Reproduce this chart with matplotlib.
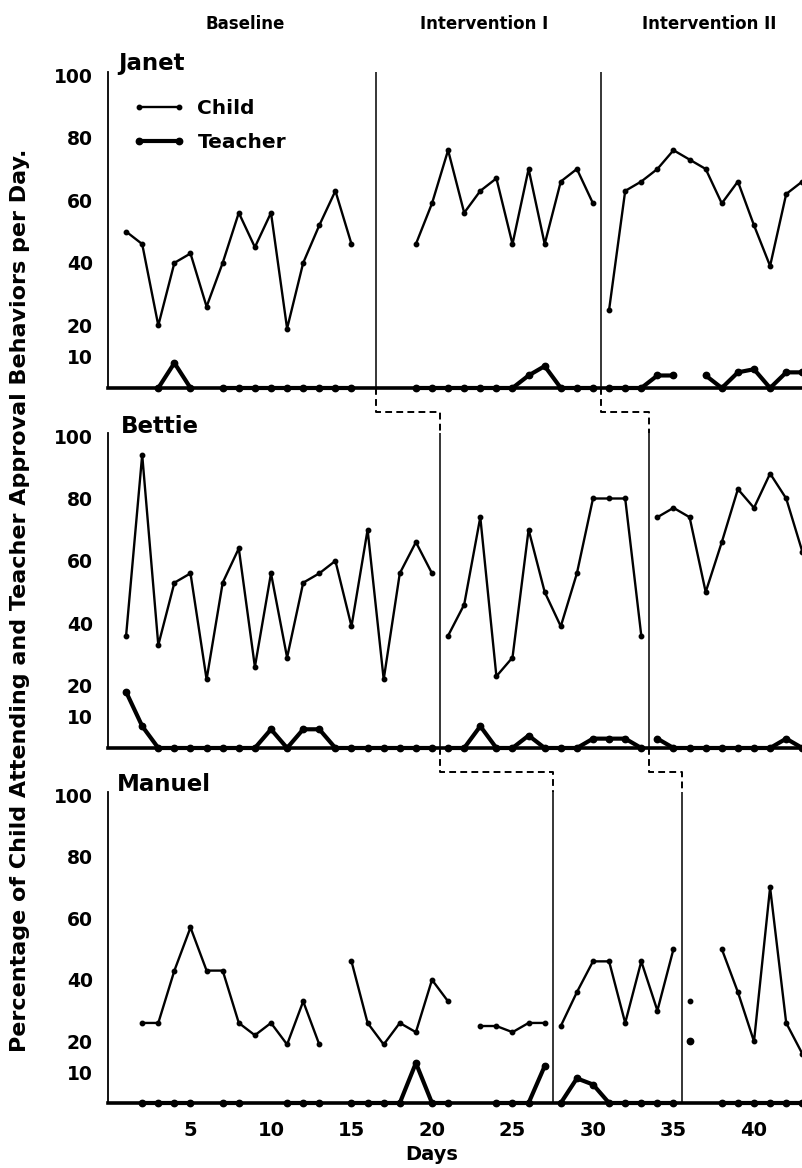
import numpy as np
import matplotlib
matplotlib.use("Agg")
import matplotlib.pyplot as plt
from matplotlib import transforms

# ================= DATA =================
nan = np.nan
days = np.arange(1, 44)

janet_child = [50, 46, 20, 40, 43, 26, 40, 56, 45, 56, 19, 40, 52, 63, 46,
               nan, nan, nan,
               46, 59, 76, 56, 63, 67, 46, 70, 46, 66, 70, 59,
               25, 63, 66, 70, 76, 73, 70, 59, 66, 52, 39, 62, 66]
janet_teacher = [nan, nan, 0, 8, 0, nan, 0, 0, 0, 0, 0, 0, 0, 0, 0,
                 nan, nan, nan,
                 0, 0, 0, 0, 0, 0, 0, 4, 7, 0, 0, 0,
                 0, 0, 0, 4, 4, nan, 4, 0, 5, 6, 0, 5, 5]

bettie_child = [36, 94, 33, 53, 56, 22, 53, 64, 26, 56, 29, 53, 56, 60, 39, 70, 22, 56, 66, 56,
                36, 46, 74, 23, 29, 70, 50, 39, 56, 80, 80, 80, 36,
                74, 77, 74, 50, 66, 83, 77, 88, 80, 63]
bettie_teacher = [18, 7, 0, 0, 0, 0, 0, 0, 0, 6, 0, 6, 6, 0, 0, 0, 0, 0, 0, 0,
                  0, 0, 7, 0, 0, 4, 0, 0, 0, 3, 3, 3, 0,
                  3, 0, 0, 0, 0, 0, 0, 0, 3, 0]

manuel_child = [nan, 26, 26, 43, 57, 43, 43, 26, 22, 26, 19, 33, 19,
                nan,
                46, 26, 19, 26, 23, 40, 33,
                nan,
                25, 25, 23, 26, 26,
                25, 36, 46, 46, 26, 46, 30, 50,
                33, nan, 50, 36, 20, 70, 26, 16]
manuel_teacher = [nan, 0, 0, 0, 0, nan, 0, 0, nan, nan, 0, 0, 0,
                  nan,
                  0, 0, 0, 0, 13, 0, 0,
                  nan,
                  nan, 0, 0, 0, 12,
                  0, 8, 6, 0, 0, 0, 0, 0,
                  20, nan, 0, 0, 0, 0, 0, 0]

names = ["Janet", "Bettie", "Manuel"]
phase_changes = [(16.5, 30.5), (20.5, 33.5), (27.5, 35.5)]
phase_titles = ["Baseline", "Intervention I", "Intervention II"]
y_ticks = [10, 20, 40, 60, 80, 100]
x_ticks = [5, 10, 15, 20, 25, 30, 35, 40]
# =========================================

plt.rcParams["font.family"] = ["DejaVu Sans"]
plt.rcParams["font.weight"] = "bold"

W, H = 802, 1168
fig = plt.figure(figsize=(W / 100, H / 100), dpi=100)

# panel boxes in pixels (top, bottom)
panel_px = [(72, 388), (433, 748), (792, 1103)]
left_px = 108
xlim = (-0.124, -0.124 + (W - left_px) / 16.1)


def draw_series(ax, vals, cuts, **kw):
    vals = np.array(vals, dtype=float)
    edges = [0, *cuts, 44]
    line = None
    for lo, hi in zip(edges[:-1], edges[1:]):
        m = (days > lo) & (days < hi)
        line, = ax.plot(days[m], vals[m], **kw)
    return line


axes = []
for i, (top, bot) in enumerate(panel_px):
    ax = fig.add_axes([left_px / W, 1 - bot / H, 1 - left_px / W, (bot - top) / H])
    axes.append(ax)
    ax.set_xlim(*xlim)
    ax.set_ylim(0, 101)
    for s in ["top", "right"]:
        ax.spines[s].set_visible(False)
    ax.spines["left"].set_linewidth(1.3)
    ax.spines["bottom"].set_linewidth(2.6)
    ax.set_yticks(y_ticks)
    ax.tick_params(axis="y", length=0, pad=11, labelsize=13.5)
    if i == 2:
        ax.set_xticks(x_ticks)
        ax.tick_params(axis="x", length=0, pad=13, labelsize=14)
    else:
        ax.set_xticks([])

    for xc in phase_changes[i]:
        ax.axvline(xc, color="black", lw=1.1, zorder=2)

child_vals = [janet_child, bettie_child, manuel_child]
teacher_vals = [janet_teacher, bettie_teacher, manuel_teacher]

for i, ax in enumerate(axes):
    child_line = draw_series(ax, child_vals[i], phase_changes[i], color="black",
                             lw=1.7, marker="o", ms=3.2, zorder=3, clip_on=False)
    teacher_line = draw_series(ax, teacher_vals[i], phase_changes[i], color="black",
                               lw=3.0, marker="o", ms=4.6, zorder=4, clip_on=False)
    if i == 0:
        ax.legend([child_line, teacher_line], ["Child", "Teacher"], loc="upper left",
                  bbox_to_anchor=(0.036, 0.914), frameon=False, numpoints=2,
                  handlelength=2.6, handletextpad=0.6, labelspacing=0.75,
                  borderpad=0, borderaxespad=0, fontsize=14.5)

# names of children
name_pos = [(118, 70), (121, 433), (117, 791)]
for name, (xp, yp) in zip(names, name_pos):
    fig.text(xp / W, 1 - yp / H, name, fontsize=16.5, fontweight="bold", va="baseline")

# phase titles
title_x = [245, 484, 709]
for t, xp in zip(phase_titles, title_x):
    fig.text(xp / W, 1 - 24 / H, t, fontsize=12, fontweight="bold", ha="center", va="center")

# dashed staircase lines between panels
trans = transforms.blended_transform_factory(axes[2].transData, fig.transFigure)
for i in range(2):
    y_top = 1 - panel_px[i][1] / H
    y_step = 1 - (panel_px[i][1] + 24) / H
    y_bot = 1 - panel_px[i + 1][0] / H
    for a, b in zip(phase_changes[i], phase_changes[i + 1]):
        axes[2].plot([a, a, b, b], [y_top, y_step, y_step, y_bot], transform=trans,
                     color="black", lw=1.4, ls=(0, (3.5, 2.2)), clip_on=False)

fig.text(20 / W, 1 - 600 / H,
         "Percentage of Child Attending and Teacher Approval Behaviors per Day.",
         rotation=90, fontsize=16, fontweight="bold", ha="center", va="center")
fig.text(432 / W, 1 - 1155 / H, "Days", fontsize=14, fontweight="bold",
         ha="center", va="center")

fig.savefig("out.png", dpi=100)
